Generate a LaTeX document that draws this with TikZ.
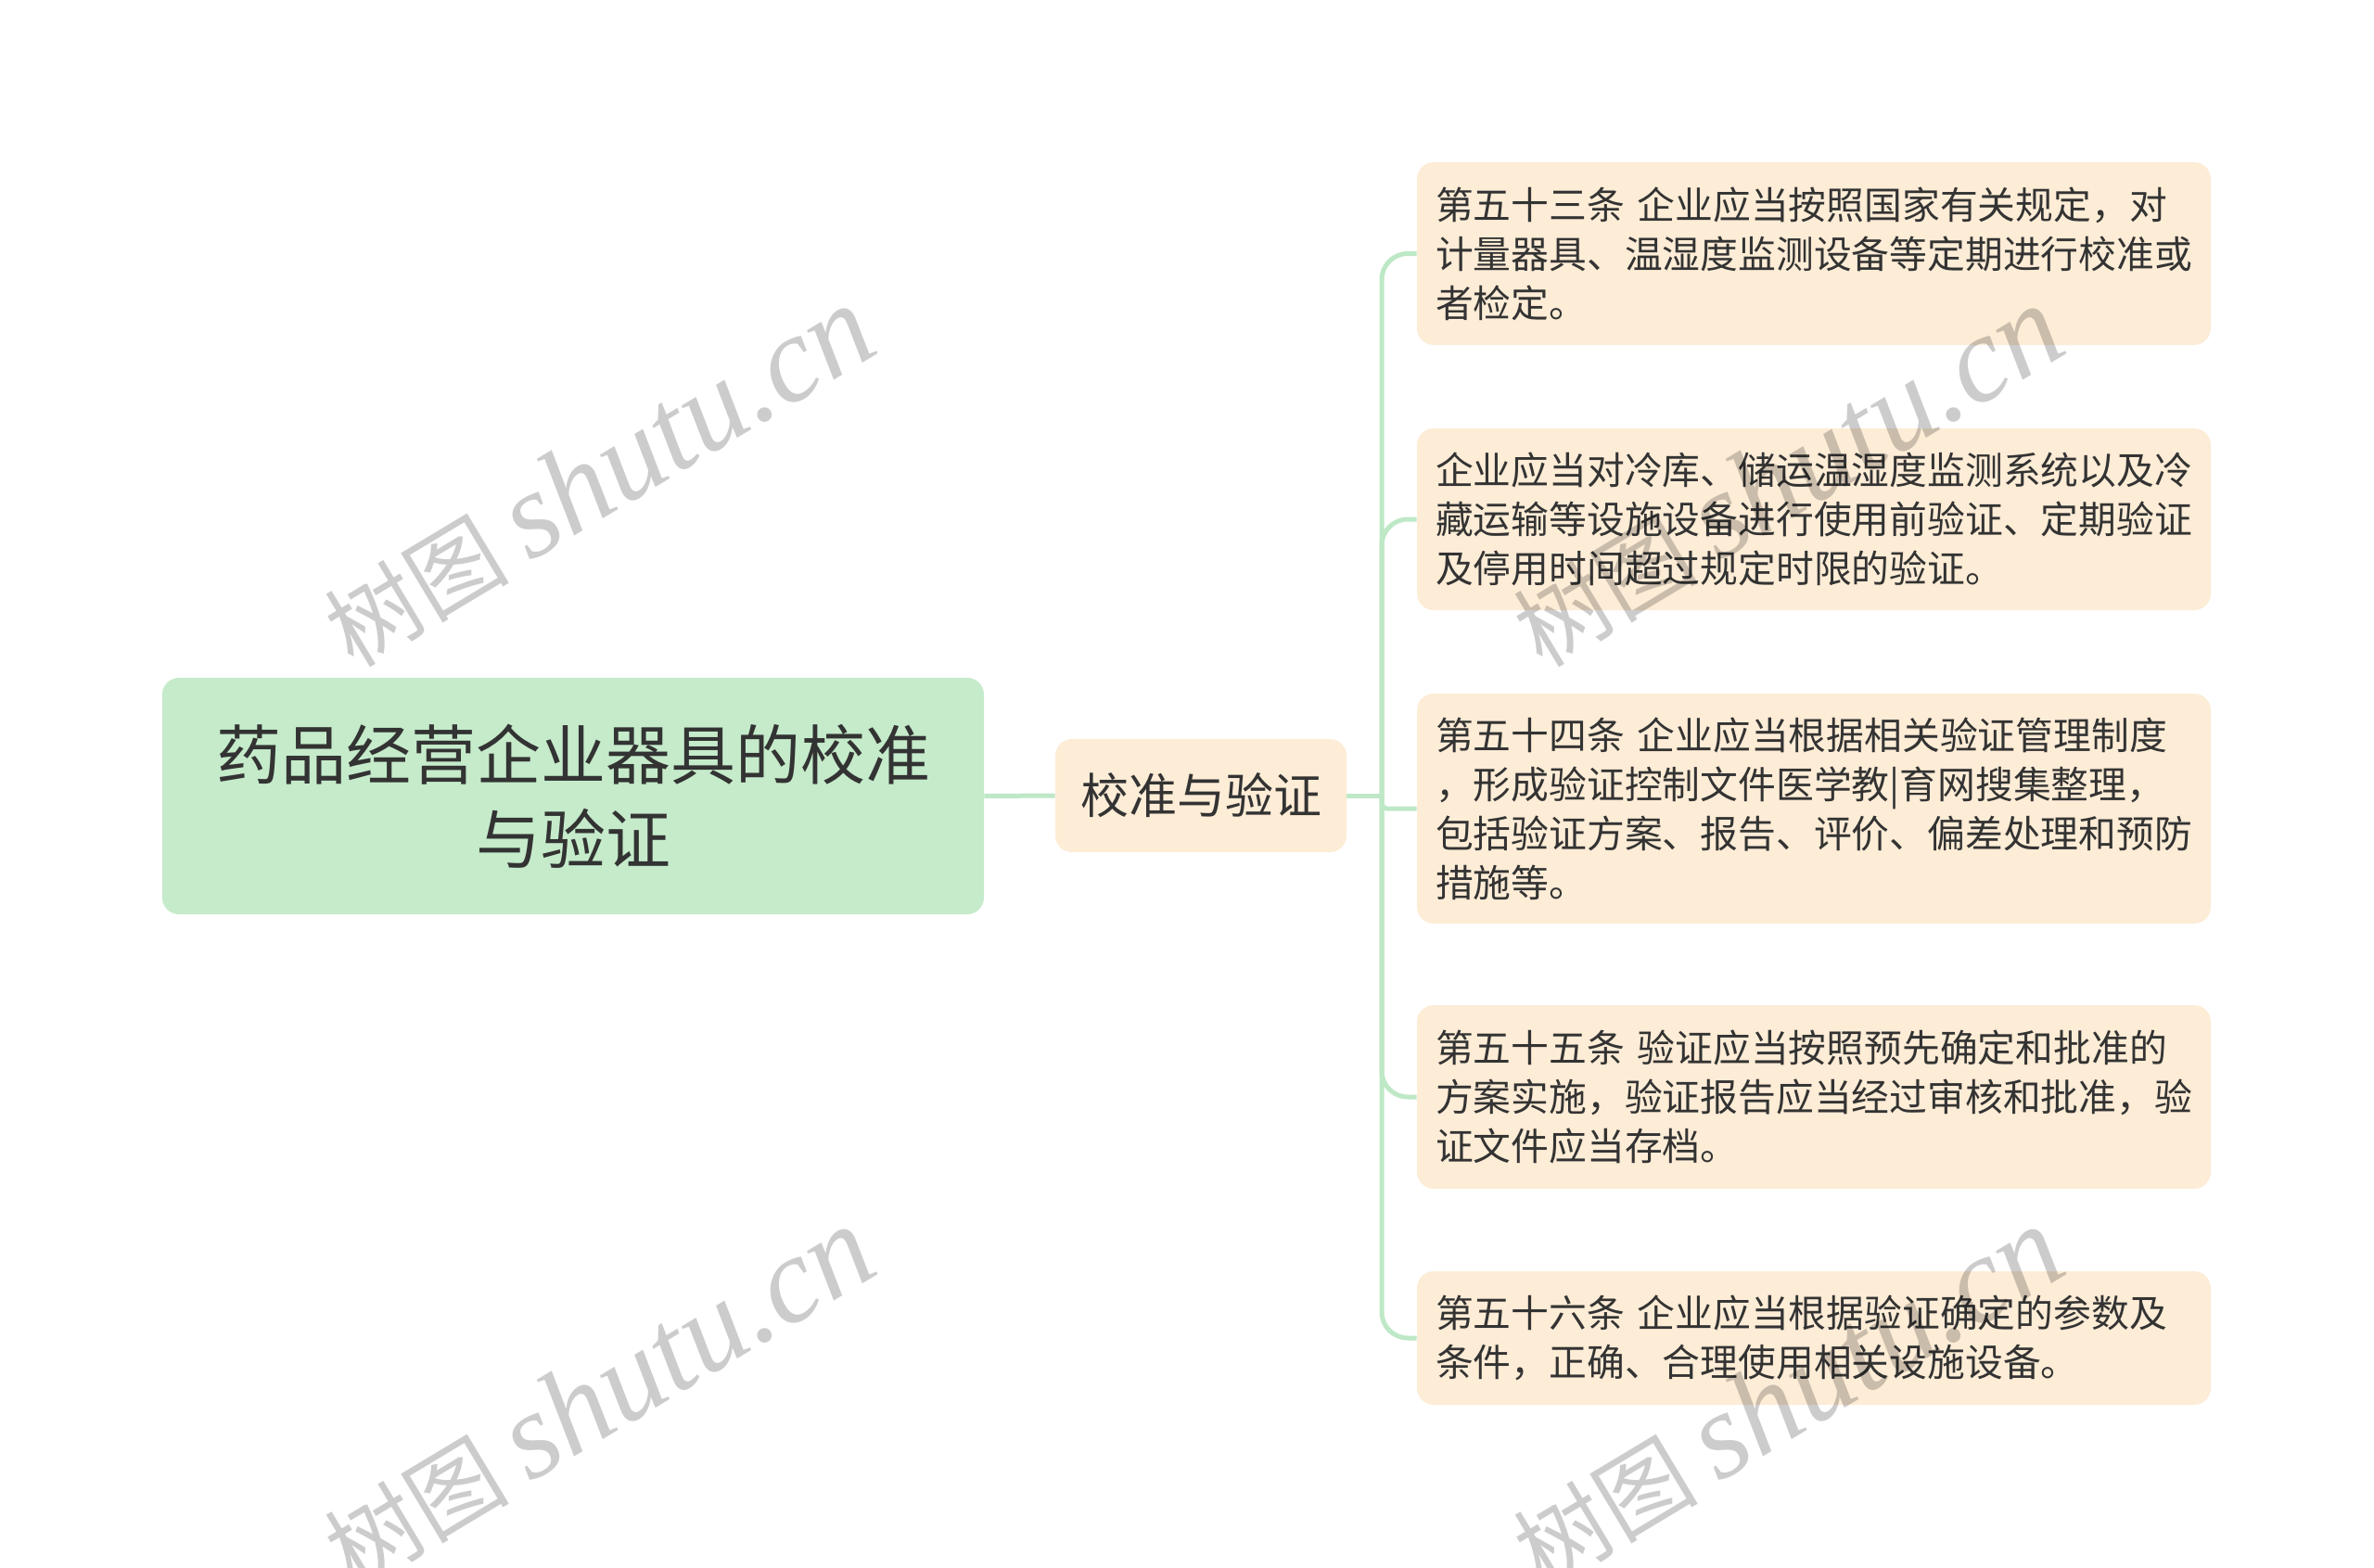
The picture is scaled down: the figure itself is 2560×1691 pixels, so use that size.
\documentclass[tikz,border=0pt]{standalone}
\usepackage{fontspec}
\setmainfont{Noto Sans CJK SC}
\newfontfamily\wmlatin{Liberation Serif}
\usetikzlibrary{positioning}
\definecolor{rootfill}{HTML}{C5EBCA}
\definecolor{leaffill}{HTML}{FDECD6}
\definecolor{linecol}{HTML}{BEE8C6}
\definecolor{txt}{HTML}{333333}
\tikzset{
  rootbox/.style={fill=rootfill, rounded corners=9pt, minimum width=443pt, minimum height=127.5pt,
    align=center, text=txt, font=\fontsize{35pt}{45.5pt}\selectfont, inner sep=0pt},
  midbox/.style={fill=leaffill, rounded corners=9pt, minimum width=157pt, minimum height=61pt,
    text=txt, font=\fontsize{26pt}{30pt}\selectfont, inner sep=0pt},
  leafbox/.style={fill=leaffill, rounded corners=9pt, text width=408pt, inner xsep=10pt, inner ysep=4pt,
    align=left, text=txt, font=\fontsize{20.4pt}{26.5pt}\selectfont},
  conn/.style={draw=linecol, line width=2.5pt},
  wmark/.style={rotate=31, text=black, opacity=0.2, font=\fontsize{50pt}{60pt}\selectfont, inner sep=0pt}
}
\newcommand{\wmtext}{树图 {\wmlatin\itshape\fontsize{66pt}{70pt}\selectfont shutu.cn}}
\begin{document}
\begin{tikzpicture}[x=0.5pt, y=-0.5pt]
\useasboundingbox (0,0) rectangle (2560,1691);
\node[rootbox] (root) at (618,858.5) {药品经营企业器具的校准\\与验证};
\node[midbox] (mid) at (1295,858) {校准与验证};
\node[leafbox, minimum height=98.5pt] (l1) at (1956,273.5) {第五十三条 企业应当按照国家有关规定，对\\计量器具、温湿度监测设备等定期进行校准或\\者检定。};
\node[leafbox, minimum height=98pt] (l2) at (1956,560) {企业应当对冷库、储运温湿度监测系统以及冷\\藏运输等设施设备进行使用前验证、定期验证\\及停用时间超过规定时限的验证。};
\node[leafbox, minimum height=124pt] (l3) at (1956,872) {第五十四条 企业应当根据相关验证管理制度\\，形成验证控制文件医学教|育网搜集整理，\\包括验证方案、报告、评价、偏差处理和预防\\措施等。};
\node[leafbox, minimum height=99pt] (l4) at (1956,1183) {第五十五条 验证应当按照预先确定和批准的\\方案实施，验证报告应当经过审核和批准，验\\证文件应当存档。};
\node[leafbox, minimum height=72pt] (l5) at (1956,1443) {第五十六条 企业应当根据验证确定的参数及\\条件，正确、合理使用相关设施设备。};
\coordinate (hub) at (1490,858);
\draw[conn] (root.east) -- (mid.west);
\draw[conn] (mid.east) -- (hub);
\draw[conn, rounded corners=14pt] (hub) |- (l1.west);
\draw[conn, rounded corners=14pt] (hub) |- (l2.west);
\draw[conn, rounded corners=3pt] (hub) |- (l3.west);
\draw[conn, rounded corners=14pt] (hub) |- (l4.west);
\draw[conn, rounded corners=14pt] (hub) |- (l5.west);
\node[wmark] (w1) at (645,514) {\wmtext};
\node[wmark] (w2) at (1927,514) {\wmtext};
\node[wmark] (w3) at (645,1507) {\wmtext};
\node[wmark] (w4) at (1927,1507) {\wmtext};
\end{tikzpicture}
\end{document}
